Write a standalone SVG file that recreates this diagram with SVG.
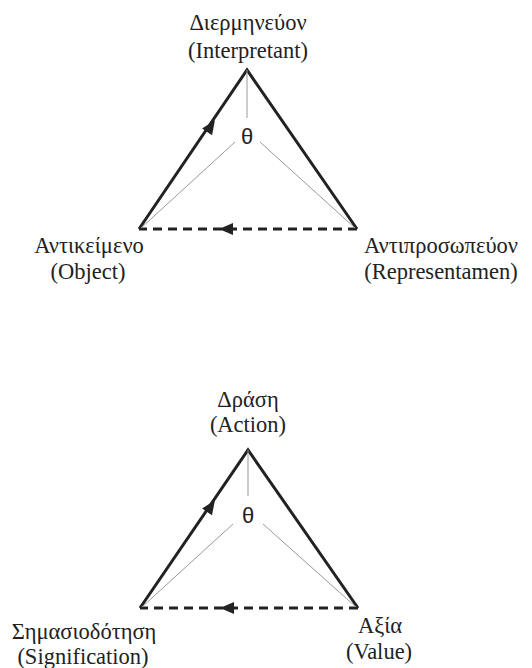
<svg xmlns="http://www.w3.org/2000/svg" width="532" height="668" viewBox="0 0 532 668">
<style>
.lbl{font-family:"Liberation Serif","Times New Roman",serif;font-size:22.5px;fill:#222;text-anchor:middle}
.th{font-family:"Liberation Sans",Arial,sans-serif;font-size:22px;fill:#222;text-anchor:middle}
.thick{stroke:#222;stroke-width:3;fill:none;stroke-linejoin:miter}
.thin{stroke:#999;stroke-width:1;fill:none}
.dash{stroke:#222;stroke-width:3;fill:none;stroke-dasharray:9 6}
.ah{fill:#222}
</style>
<defs>
<path id="ah" d="M7,0 L-7,-6 L-7,6 Z"/>
</defs>
<rect width="532" height="668" fill="#fff"/>
<g id="interpretant"><text class="lbl" x="248" y="30">Διερμηνεύον</text><text class="lbl" x="248" y="58">(Interpretant)</text></g>
<g id="object"><text class="lbl" x="89" y="253">Αντικείμενο</text><text class="lbl" x="88" y="279">(Object)</text></g>
<g id="representamen"><text class="lbl" x="441" y="253">Αντιπροσωπεύον</text><text class="lbl" x="441" y="279">(Representamen)</text></g>
<g id="theta1"><text class="th" x="247" y="144">θ</text></g>
<g id="action"><text class="lbl" x="248" y="407">Δράση</text><text class="lbl" x="248" y="432">(Action)</text></g>
<g id="signification"><text class="lbl" x="84" y="639">Σημασιοδότηση</text><text class="lbl" x="83" y="664">(Signification)</text></g>
<g id="value"><text class="lbl" x="380" y="633">Αξία</text><text class="lbl" x="379" y="659">(Value)</text></g>
<g id="theta2"><text class="th" x="248" y="523">θ</text></g>
<g id="connectors">
<path class="thick" d="M139,229 L247,70 L357,229"/>
<path class="dash" d="M357,229 L139,229"/>
<path class="thin" d="M247,70 L247,118 M235,142 L141,228 M260,142 L355,228"/>
<use href="#ah" class="ah" transform="translate(211,126) rotate(-55.8)"/>
<use href="#ah" class="ah" transform="translate(226,229) rotate(180)"/>
<path class="thick" d="M140,608 L248,450 L358,608"/>
<path class="dash" d="M358,608 L140,608"/>
<path class="thin" d="M248,450 L248,496 M233,524 L142,607 M263,524 L356,607"/>
<use href="#ah" class="ah" transform="translate(211,506) rotate(-55.6)"/>
<use href="#ah" class="ah" transform="translate(227,608) rotate(180)"/>
</g>
</svg>
